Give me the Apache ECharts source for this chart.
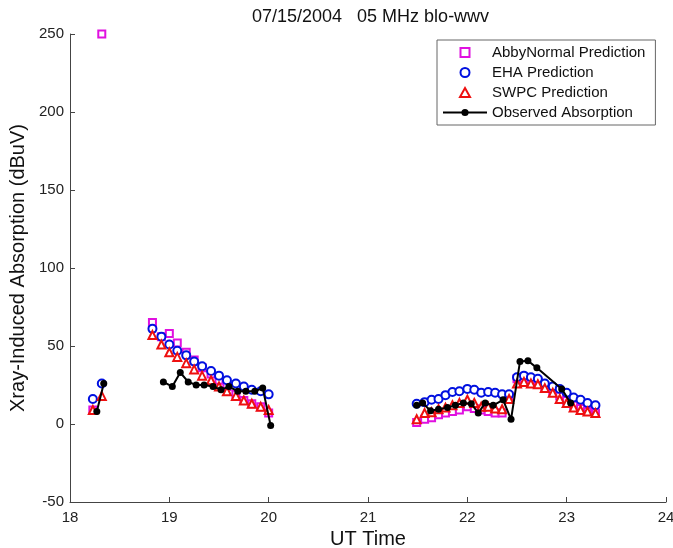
<!DOCTYPE html>
<html>
<head>
<meta charset="utf-8">
<script src="https://cdn.jsdelivr.net/npm/echarts@6/dist/echarts.min.js"></script>
<style>html,body{margin:0;padding:0;background:#fff}#c{width:673px;height:548px}</style>
</head>
<body>
<div id="c"></div>
<script>
// Prediction times (UT hours)
const predT1 = [18.23, 18.32];
const predT2 = [18.83, 18.92, 19.00, 19.08, 19.17, 19.25, 19.33, 19.42, 19.50, 19.58, 19.67, 19.75, 19.83, 19.92, 20.00];
const predT3 = [21.49, 21.57, 21.64, 21.71, 21.78, 21.85, 21.92, 22.00, 22.07, 22.14, 22.21, 22.28, 22.35, 22.42,
                22.50, 22.57, 22.64, 22.71, 22.78, 22.86, 22.93, 23.00, 23.07, 23.14, 23.21, 23.29];

// AbbyNormal Prediction
const abby1 = [9, 250];
const abby2 = [65, 56, 58, 52, 46, 41, 36, 32, 28, 24, 19, 15, 13, 11, 7];
const abby3 = [1, 3, 4, 6, 7, 8, 9, 11, 10, 9, 8, 7, 7, 18, 29, 29, 28, 27, 24, 21, 18, 15, 12, 10, 8, 7];

// EHA Prediction
const eha1 = [16, 26];
const eha2 = [61, 56, 51, 47, 44, 40, 37, 34, 31, 28, 26, 24, 22, 21, 19];
const eha3 = [13, 14, 15.5, 16, 18.5, 20.5, 21, 22.5, 22, 20, 20.5, 20, 19, 19, 30, 31, 30, 29, 26, 24, 22.5, 20, 17, 15.5, 13.5, 12];

// SWPC Prediction
const swpc1 = [9, 18];
const swpc2 = [57, 51, 46, 43, 39, 35, 31, 28, 24, 21, 18, 15, 13, 11, 9];
const swpc3 = [3, 7, 7.5, 9.5, 10.5, 12, 13.5, 15.5, 13.5, 11, 11, 10, 9.5, 16, 26, 27, 26, 25.5, 23, 20, 16, 13.5, 10.5, 9, 8, 7];

// Observed Absorption (null = gap in line)
const obsT = [18.27, 18.34, 18.6, 18.94, 19.03, 19.11, 19.19, 19.27, 19.35, 19.44, 19.52, 19.60, 19.69, 19.77, 19.86, 19.94, 20.02, 20.8,
              21.49, 21.55, 21.63, 21.71, 21.80, 21.88, 21.96, 22.04, 22.11, 22.18, 22.26, 22.36, 22.44, 22.53, 22.61, 22.70, 22.95, 23.04];
const obsV = [8, 26, null, 27, 24, 33, 27, 25, 25, 24, 22, 24, 21, 21, 21, 23, -1, null,
              12, 13.5, 8.5, 9.5, 10.5, 12, 13.5, 13, 7, 13.5, 12, 15.5, 3, 40, 40.5, 36, 22.5, 13.5];

const xTicks = [18, 19, 20, 21, 22, 23, 24];
const yTicks = [-50, 0, 50, 100, 150, 200, 250];

const title = '07/15/2004   05 MHz blo-wwv';
const xName = 'UT Time';
const yName = 'Xray-Induced Absorption (dBuV)';

function pairs(ts, vs) { return ts.map((t, i) => [t, vs[i] === null ? '-' : vs[i]]); }
function join(tsList, vsList) {
  let out = [];
  tsList.forEach((ts, k) => { out = out.concat(pairs(ts, vsList[k])); });
  return out;
}

const FONT = 'Liberation Sans, Arial, sans-serif';
const MAG = '#e010e0', BLU = '#0010e0', RED = '#ee1010';

const chart = echarts.init(document.getElementById('c'), null, {renderer: 'canvas'});
chart.setOption({
  animation: false,
  backgroundColor: '#fff',
  title: {
    text: title, left: 247, top: 3,
    textStyle: {fontFamily: FONT, fontSize: 18, fontWeight: 'normal', color: '#111'}
  },
  grid: {left: 70, right: 7, top: 34, bottom: 46, containLabel: false, outerBoundsMode: 'none'},
  xAxis: {
    type: 'value', min: xTicks[0], max: xTicks[xTicks.length - 1], interval: 1,
    name: xName, nameLocation: 'middle', nameGap: 24,
    nameTextStyle: {fontFamily: FONT, fontSize: 20, color: '#111'},
    axisLine: {show: true, onZero: false, lineStyle: {color: '#444', width: 1}},
    axisTick: {show: true, inside: true, length: 5, lineStyle: {color: '#444'}},
    axisLabel: {fontFamily: FONT, fontSize: 15, color: '#222', margin: 8},
    splitLine: {show: false}
  },
  yAxis: {
    type: 'value', min: yTicks[0], max: yTicks[yTicks.length - 1], interval: 50,
    name: yName, nameLocation: 'middle', nameGap: 33,
    nameTextStyle: {fontFamily: FONT, fontSize: 20, color: '#111'},
    axisLine: {show: true, onZero: false, lineStyle: {color: '#444', width: 1}},
    axisTick: {show: true, inside: true, length: 5, lineStyle: {color: '#444'}},
    axisLabel: {fontFamily: FONT, fontSize: 15, color: '#222', margin: 6},
    splitLine: {show: false}
  },
  legend: {
    orient: 'vertical', left: 437, top: 40,
    padding: [5, 10, 5, 5],
    itemWidth: 44, itemHeight: 9, itemGap: 5, symbolKeepAspect: true,
    backgroundColor: '#fff', borderColor: '#666', borderWidth: 1,
    textStyle: {fontFamily: FONT, fontSize: 15, color: '#111', lineHeight: 15},
    data: [
      {name: 'AbbyNormal Prediction', icon: 'path://M0,0L10,0L10,10L0,10Z', itemStyle: {color: '#fff', borderColor: MAG, borderWidth: 2}},
      {name: 'EHA Prediction', icon: 'circle', itemStyle: {color: '#fff', borderColor: BLU, borderWidth: 2}},
      {name: 'SWPC Prediction', icon: 'path://M5,0L10,9L0,9Z', itemStyle: {color: '#fff', borderColor: RED, borderWidth: 2}},
      {name: 'Observed Absorption'}
    ]
  },
  series: [
    {
      name: 'AbbyNormal Prediction', type: 'scatter', symbol: 'rect', symbolSize: 7,
      itemStyle: {color: '#fff', borderColor: MAG, borderWidth: 2, opacity: 1},
      data: join([predT1, predT2, predT3], [abby1, abby2, abby3])
    },
    {
      name: 'EHA Prediction', type: 'scatter', symbol: 'circle', symbolSize: 8,
      itemStyle: {color: '#fff', borderColor: BLU, borderWidth: 2, opacity: 1},
      data: join([predT1, predT2, predT3], [eha1, eha2, eha3])
    },
    {
      name: 'SWPC Prediction', type: 'scatter', symbol: 'triangle', symbolSize: 8,
      itemStyle: {color: '#fff', borderColor: RED, borderWidth: 2, opacity: 1},
      data: join([predT1, predT2, predT3], [swpc1, swpc2, swpc3])
    },
    {
      name: 'Observed Absorption', type: 'line', symbol: 'circle', symbolSize: 7,
      showAllSymbol: true, connectNulls: false,
      lineStyle: {color: '#000', width: 2},
      itemStyle: {color: '#000'},
      data: pairs(obsT, obsV)
    }
  ]
});
</script>
</body>
</html>
